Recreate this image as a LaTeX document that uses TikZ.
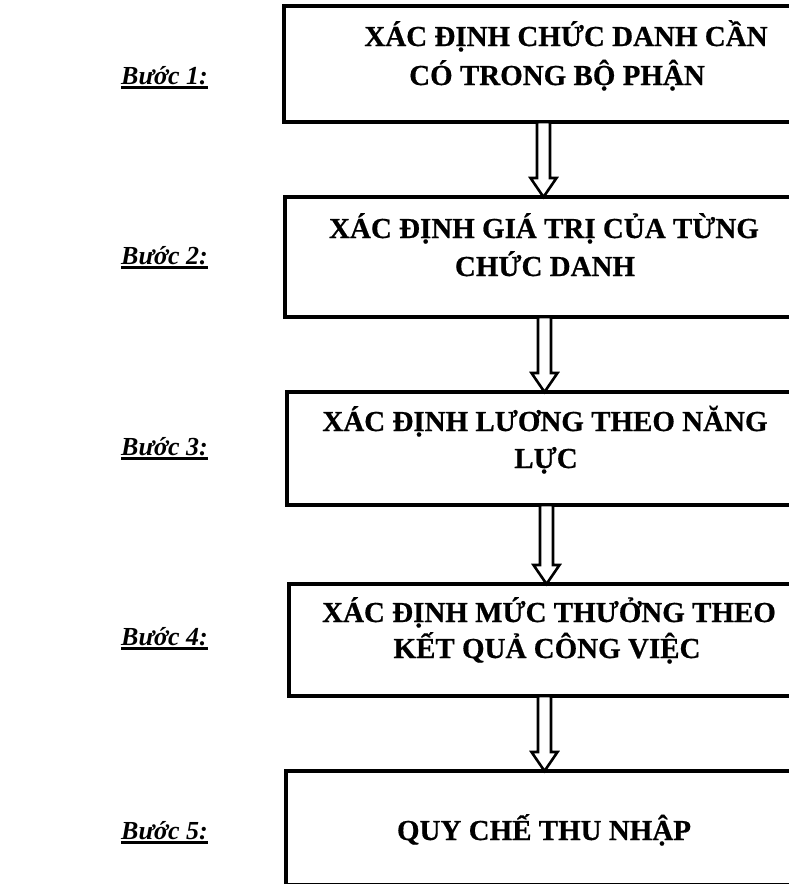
\documentclass[tikz,border=0pt]{standalone}
\usepackage{fontspec}
\setmainfont{Liberation Serif}[BoldFeatures={FakeBold=0.6}]
\usetikzlibrary{calc}
\newcommand\myul[1]{\setbox0=\hbox{#1}\rlap{\rule[-5pt]{\wd0}{3pt}}\box0}
\begin{document}
\begin{tikzpicture}[x=1pt,y=-1pt,
  boxline/.style={draw, line width=3.4pt, outer sep=0pt, inner sep=0pt, anchor=north west, minimum width=516pt},
  steptext/.style={anchor=base, font=\fontsize{29}{37}\selectfont\bfseries, inner sep=0pt},
  steplabel/.style={anchor=base west, font=\fontsize{26}{30}\selectfont\bfseries\itshape, inner sep=0pt},
  hollow/.style={draw, line width=2.6pt, fill=white, line join=miter}]
\useasboundingbox (0,0) rectangle (789,884);
\clip (0,0) rectangle (789,884);
% boxes
\node[boxline, minimum height=116pt] (b1) at (284,6) {};
\node[boxline, minimum height=120pt] (b2) at (285,197) {};
\node[boxline, minimum height=113pt] (b3) at (287,392) {};
\node[boxline, minimum height=112pt] (b4) at (289,584) {};
\node[boxline, minimum height=113.5pt] (b5) at (286,771) {};
% arrow axes
\coordinate (a1) at (543.5,0);
\coordinate (a2) at (544.5,0);
\coordinate (a3) at (546.5,0);
\coordinate (a4) at (544.5,0);
\foreach \u/\v/\a in {b1/b2/a1, b2/b3/a2, b3/b4/a3, b4/b5/a4}{
  \draw[hollow] let \p1=(\u.south -| \a), \p2=(\v.north -| \a) in
    (\x1-6.5pt,\y1) -- (\x1-6.5pt,\y2+19pt) -- (\x1-13pt,\y2+19pt) -- (\x1,\y2)
    -- (\x1+13pt,\y2+19pt) -- (\x1+6.5pt,\y2+19pt) -- (\x1+6.5pt,\y1) -- cycle;
}
% texts
\node[steptext] (t1a) at (566,46) {XÁC ĐỊNH CHỨC DANH CẦN};
\node[steptext] (t1b) at (557,85) {CÓ TRONG BỘ PHẬN};
\node[steptext] (t2a) at (544,238) {XÁC ĐỊNH GIÁ TRỊ CỦA TỪNG};
\node[steptext] (t2b) at (545,276) {CHỨC DANH};
\node[steptext] (t3a) at (545,431) {XÁC ĐỊNH LƯƠNG THEO NĂNG};
\node[steptext] (t3b) at (546,468) {LỰC};
\node[steptext] (t4a) at (549,622) {XÁC ĐỊNH MỨC THƯỞNG THEO};
\node[steptext] (t4b) at (547,658) {KẾT QUẢ CÔNG VIỆC};
\node[steptext] (t5) at (544,840) {QUY CHẾ THU NHẬP};
% labels
\node[steplabel] (l1) at (121,84) {\myul{Bước 1:}};
\node[steplabel] (l2) at (121,264) {\myul{Bước 2:}};
\node[steplabel] (l3) at (121,455) {\myul{Bước 3:}};
\node[steplabel] (l4) at (121,645) {\myul{Bước 4:}};
\node[steplabel] (l5) at (121,839) {\myul{Bước 5:}};
\end{tikzpicture}
\end{document}
